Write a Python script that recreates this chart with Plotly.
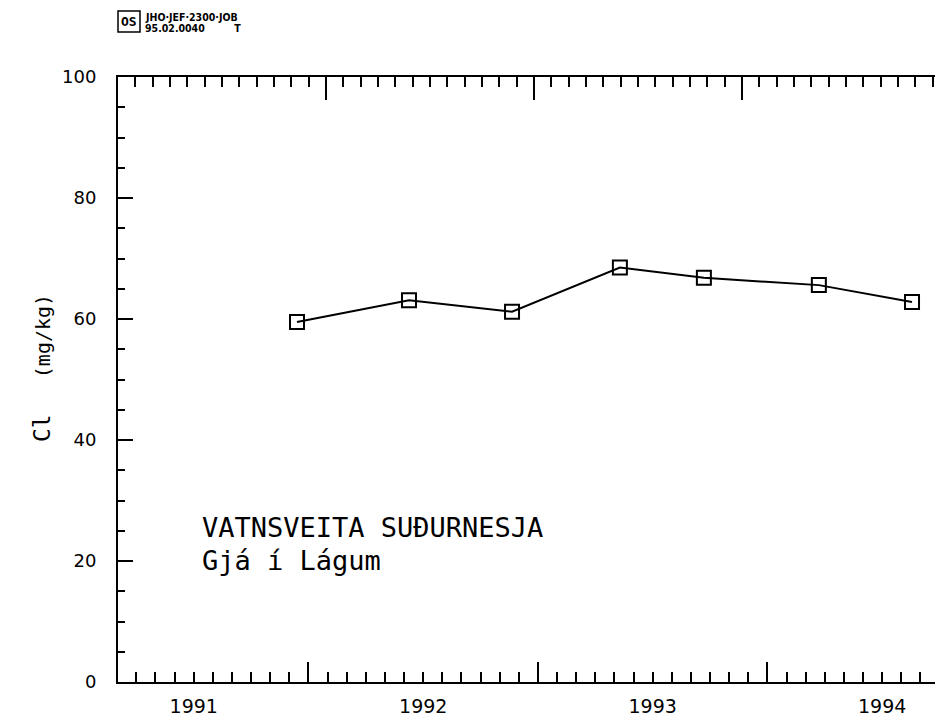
import plotly.graph_objects as go

# ---- data ----
sample_dates = [1991.950, 1992.438, 1992.887, 1993.357, 1993.723, 1994.224, 1994.630]
cl_values = [59.5, 63.1, 61.2, 68.5, 66.8, 65.6, 62.8]
year_labels = ["1991", "1992", "1993", "1994"]
year_label_pos = [1991.5, 1992.5, 1993.5, 1994.5]
y_ticks = [0, 20, 40, 60, 80, 100]

# page body has an 8px margin, so the figure is 8px smaller than the window
W, H = 935, 712
ML, MT, MB = 110, 69, 38
PW = W - ML
PH = H - MT - MB

X_RANGE = [1991.170, 1994.765]          # bottom (labelled) time axis
X2_RANGE = [1991.0, 1991.0 + PW / 208]  # top tick axis
Y_RANGE = [0, 100]

fig = go.Figure()

fig.add_trace(go.Scatter(
    x=sample_dates, y=cl_values, mode="lines+markers",
    line=dict(color="black", width=2),
    marker=dict(symbol="square-open", size=14, color="black",
                line=dict(color="black", width=2)),
    showlegend=False, hoverinfo="skip",
))
# helper (empty) traces so the overlay axes get drawn
fig.add_trace(go.Scatter(x=[None], y=[None], xaxis="x2", yaxis="y", showlegend=False, hoverinfo="skip"))
fig.add_trace(go.Scatter(x=[None], y=[None], xaxis="x3", yaxis="y", showlegend=False, hoverinfo="skip"))
fig.add_trace(go.Scatter(x=[None], y=[None], xaxis="x", yaxis="y2", showlegend=False, hoverinfo="skip"))

yfont = dict(family="DejaVu Sans", size=18, color="black")
xfont = dict(family="DejaVu Sans", size=19, color="black")

fig.update_layout(
    width=W, height=H,
    margin=dict(l=ML, r=0, t=MT, b=MB),
    paper_bgcolor="white", plot_bgcolor="white",
    xaxis=dict(
        range=X_RANGE, showgrid=False, zeroline=False,
        showline=True, linecolor="black", linewidth=2,
        tickmode="array", tickvals=year_label_pos, ticktext=year_labels,
        ticks="", tickfont=xfont, ticklabelstandoff=6,
    ),
    xaxis3=dict(
        range=X_RANGE, overlaying="x", side="bottom", anchor="y",
        showgrid=False, zeroline=False, showline=False, showticklabels=False,
        tickmode="linear", tick0=1991, dtick=1,
        ticks="inside", ticklen=20, tickwidth=2, tickcolor="black",
        minor=dict(dtick=1 / 12, tick0=1991, ticks="inside", ticklen=10,
                   tickwidth=2, tickcolor="black", showgrid=False),
    ),
    xaxis2=dict(
        range=X2_RANGE, overlaying="x", side="top", anchor="y",
        showgrid=False, zeroline=False, showline=True, linecolor="black", linewidth=2,
        showticklabels=False,
        tickmode="linear", tick0=1991, dtick=1,
        ticks="inside", ticklen=23, tickwidth=2, tickcolor="black",
        minor=dict(dtick=1 / 12, tick0=1991, ticks="inside", ticklen=10,
                   tickwidth=2, tickcolor="black", showgrid=False),
    ),
    yaxis=dict(
        range=Y_RANGE, showgrid=False, zeroline=False,
        showline=True, linecolor="black", linewidth=2,
        tickmode="array", tickvals=y_ticks,
        ticks="inside", ticklen=15, tickwidth=2, tickcolor="black",
        tickfont=yfont, ticklabelstandoff=16,
        minor=dict(dtick=5, tick0=0, ticks="inside", ticklen=7,
                   tickwidth=2, tickcolor="black", showgrid=False),
    ),
    yaxis2=dict(
        range=Y_RANGE, overlaying="y", side="right", anchor="x",
        showgrid=False, zeroline=False, showline=False, showticklabels=False,
        tickmode="array", tickvals=y_ticks,
        ticks="inside", ticklen=8, tickwidth=2, tickcolor="black",
        minor=dict(dtick=5, tick0=0, ticks="inside", ticklen=2,
                   tickwidth=2, tickcolor="black", showgrid=False),
    ),
)


def px(xp):
    return (xp - ML) / PW


def py(yp):
    return (H - MB - yp) / PH


# y-axis title (reads bottom-to-top: "Cl  (mg/kg)")
fig.add_annotation(
    xref="paper", yref="paper", x=px(34), y=py(360), xanchor="center", yanchor="middle",
    textangle=-90, showarrow=False,
    text="<span style='font-size:23px'>Cl</span>&nbsp;&nbsp;&nbsp;&nbsp;&nbsp;<span style='font-size:20px'>(mg/kg)</span>",
    font=dict(family="DejaVu Sans Mono", color="black"),
)

# site annotation
mono = dict(family="DejaVu Sans Mono", size=27, color="black")
fig.add_annotation(xref="paper", yref="paper", x=px(192), y=py(519),
                   xanchor="left", yanchor="middle", showarrow=False,
                   text="VATNSVEITA SUÐURNESJA", font=mono)
fig.add_annotation(xref="paper", yref="paper", x=px(192), y=py(552),
                   xanchor="left", yanchor="middle", showarrow=False,
                   text="Gjá í Lágum", font=mono)

# header stamp
hdr = dict(family="Liberation Sans Narrow, DejaVu Sans Condensed, Liberation Sans", size=10.5, color="black")
fig.add_shape(type="rect", xref="paper", yref="paper",
              x0=px(110), x1=px(132), y0=py(24), y1=py(3),
              line=dict(color="black", width=1.5))
fig.add_annotation(xref="paper", yref="paper", x=px(121), y=py(13.5),
                   xanchor="center", yanchor="middle", showarrow=False,
                   text="<b>OS</b>", font=dict(family="DejaVu Sans Mono", size=13, color="black"))
fig.add_annotation(xref="paper", yref="paper", x=px(135), y=py(9),
                   xanchor="left", yanchor="middle", showarrow=False,
                   text="<b>JHO·JEF·2300·JOB</b>", font=hdr)
fig.add_annotation(xref="paper", yref="paper", x=px(135), y=py(20),
                   xanchor="left", yanchor="middle", showarrow=False,
                   text="<b>95.02.0040&nbsp;&nbsp;&nbsp;&nbsp;&nbsp;&nbsp;&nbsp;&nbsp;&nbsp;T</b>", font=hdr)

fig.write_html("out.html")
